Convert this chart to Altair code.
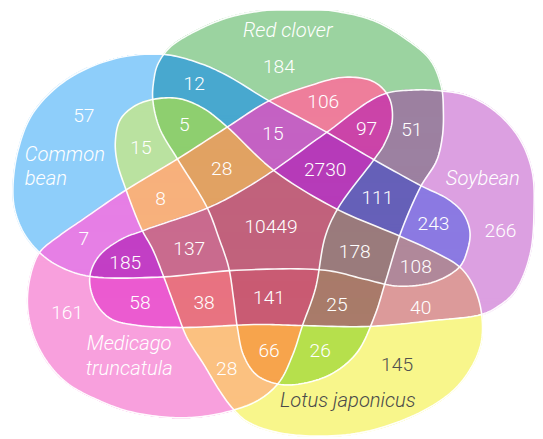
import numpy as np
import pandas as pd
import altair as alt

alt.data_transformers.disable_max_rows()

# ---------------- data ----------------
SET_NAMES = ["Common bean", "Red clover", "Soybean", "Lotus japonicus", "Medicago truncatula"]
SET_CODES = ["B", "G", "P", "Y", "K"]

REGION_SETS = ["B", "G", "P", "Y", "K",
               "BG", "GK", "GP", "BP", "PY", "GY", "YK", "PK", "BK", "BY",
               "BGY", "BGK", "GPK", "BGP", "BPY", "BPK", "BYK", "PYK", "GYK", "GPY",
               "BGYK", "BGPK", "BPYK", "BGPY", "GPYK", "BGPYK"]
REGION_COUNTS = [57, 184, 266, 145, 161,
                 12, 106, 51, 243, 40, 26, 28, 58, 7, 15,
                 5, 15, 97, 111, 108, 185, 8, 38, 66, 25,
                 28, 2730, 137, 178, 141, 10449]
REGION_COLORS = ["#8ecefa", "#9bd3a0", "#dca0e1", "#f8f68b", "#f8a0dd",
                 "#48a8cf", "#ee7e9b", "#9c81a1", "#8b7ae2", "#dc9a9a", "#b6e04c", "#fbc181",
                 "#eb5bd0", "#e67fe5", "#bae2a0",
                 "#8ecf6f", "#c462c3", "#cb44a9", "#6660b9", "#b0889a", "#c23fc5", "#f7b17c",
                 "#e87381", "#f7a44d", "#a97b6a",
                 "#e1a263", "#b63bb9", "#c96b8e", "#9a7b7c", "#c95b73", "#c1627c"]

# ---------------- layout (geometry of the diagram) ----------------
SHAPE_OUTLINES = {
    "B": [(117, 56), (167, 52), (203, 61), (230, 73), (273, 99), (330, 130), (380, 159), (427, 185),
          (455, 199), (470, 213), (477, 232), (474, 252), (466, 268), (440, 283), (403, 287),
          (370, 280), (330, 271), (240, 271), (160, 278), (90, 277), (60, 267), (40, 253),
          (24, 233), (15, 210), (13, 187), (18, 150), (33, 112), (67, 78)],
    "G": [(160, 62), (172, 45), (195, 30), (230, 15), (263, 8), (300, 5), (340, 8), (380, 18),
          (413, 37), (437, 58), (448, 85), (450, 110), (449, 135), (443, 160), (427, 186),
          (407, 232), (392, 280), (380, 318), (362, 355), (335, 377), (300, 387), (280, 386),
          (260, 377), (247, 357), (241, 330), (237, 300), (232, 268), (222, 238), (210, 207),
          (180, 158), (162, 127), (155, 98), (156, 78)],
    "P": [(91, 278), (100, 257), (122, 240), (147, 230), (210, 208), (240, 193), (277, 170),
          (330, 132), (387, 93), (420, 88), (448, 89), (475, 94), (503, 110), (527, 137),
          (540, 170), (542, 210), (538, 255), (523, 292), (505, 308), (488, 316), (440, 322),
          (373, 328), (303, 327), (263, 326), (187, 329), (140, 327), (112, 320), (96, 302)],
    "Y": [(117, 140), (122, 118), (137, 104), (158, 97), (183, 97), (207, 107), (230, 125),
          (277, 169), (340, 208), (405, 236), (440, 252), (467, 268), (481, 288), (489, 317),
          (487, 350), (465, 388), (425, 416), (365, 436), (310, 439), (275, 434), (250, 424),
          (235, 410), (222, 392), (207, 367), (190, 340), (180, 315), (167, 280), (155, 250),
          (143, 228), (127, 187), (119, 162)],
    "K": [(40, 253), (60, 236), (83, 220), (127, 190), (180, 158), (230, 126), (273, 99),
          (310, 85), (350, 75), (380, 80), (395, 96), (398, 120), (390, 143), (380, 158),
          (343, 208), (330, 237), (320, 290), (307, 327), (297, 357), (283, 385), (262, 403),
          (233, 414), (200, 420), (167, 420), (130, 414), (100, 403), (70, 387), (50, 367),
          (35, 340), (28, 310), (30, 280)],
}

# label anchors (visual centres), same order as REGION_SETS
LABEL_XY = [(85, 113), (283, 64), (508, 230), (403, 366), (68, 313),
            (197, 81), (328, 99), (418, 128), (440, 223), (427, 308), (325, 352), (230, 370),
            (142, 303), (85, 238), (143, 146),
            (187, 123), (277, 132), (372, 127), (383, 197), (422, 267), (127, 263), (163, 198),
            (207, 303), (273, 352), (342, 305),
            (225, 167), (330, 168), (192, 248), (360, 252), (273, 298), (275, 226)]

# set-name lines: (set index, word index or None, baseline x, baseline y, alignment)
NAME_LAYOUT = [(0, 0, 25, 160, "left"), (0, 1, 25, 184, "left"),
               (1, None, 292, 34, "center"), (2, None, 490, 184, "center"),
               (3, None, 353, 410, "center"),
               (4, 0, 131, 352, "center"), (4, 1, 131, 377, "center")]

FONT = "Roboto"


# ---------------- geometry helpers ----------------
def smooth_closed(pts, n=12):
    P = np.asarray(pts, float)
    m = len(P)
    out = []
    for i in range(m):
        p0, p1, p2, p3 = P[(i - 1) % m], P[i], P[(i + 1) % m], P[(i + 2) % m]
        t0 = 0.0
        t1 = t0 + np.hypot(*(p1 - p0)) ** 0.5
        t2 = t1 + np.hypot(*(p2 - p1)) ** 0.5
        t3 = t2 + np.hypot(*(p3 - p2)) ** 0.5
        t = np.linspace(t1, t2, n, endpoint=False)[:, None]
        a1 = (t1 - t) / (t1 - t0) * p0 + (t - t0) / (t1 - t0) * p1
        a2 = (t2 - t) / (t2 - t1) * p1 + (t - t1) / (t2 - t1) * p2
        a3 = (t3 - t) / (t3 - t2) * p2 + (t - t2) / (t3 - t2) * p3
        b1 = (t2 - t) / (t2 - t0) * a1 + (t - t0) / (t2 - t0) * a2
        b2 = (t3 - t) / (t3 - t1) * a2 + (t - t1) / (t3 - t1) * a3
        out.append((t2 - t) / (t2 - t1) * b1 + (t - t1) / (t2 - t1) * b2)
    return np.vstack(out)


polys = {c: smooth_closed(SHAPE_OUTLINES[c]) for c in SET_CODES}


def crossings(poly, yc):
    x1, y1 = poly[:, 0], poly[:, 1]
    x2, y2 = np.roll(x1, -1), np.roll(y1, -1)
    m = ((y1 <= yc) & (y2 > yc)) | ((y2 <= yc) & (y1 > yc))
    return np.sort(x1[m] + (yc - y1[m]) * (x2[m] - x1[m]) / (y2[m] - y1[m]))


# fill every Venn cell row by row (exact membership -> its own colour);
# each strip overlaps its neighbours by a full pixel so no seams show
cells = []
for r in range(8, 439):
    yc = r + 0.5
    cr = {c: crossings(polys[c], yc) for c in SET_CODES}
    allx = np.concatenate(list(cr.values()))
    if allx.size == 0:
        continue
    bps = np.unique(allx)
    prev = None
    for a, b in zip(bps[:-1], bps[1:]):
        mid = 0.5 * (a + b)
        key = "".join(c for c in SET_CODES if np.sum(cr[c] < mid) % 2 == 1)
        if not key:
            prev = None
            continue
        if prev is not None and prev["region"] == key:
            prev["x2"] = float(b) + 0.5
        else:
            prev = dict(x=float(a) - 0.5, x2=float(b) + 0.5, y=r - 0.5, y2=r + 1.5, region=key)
            cells.append(prev)
cell_df = pd.DataFrame(cells)

outline_rows = []
for c in SET_CODES:
    p = polys[c]
    p = np.vstack([p, p[:1]])
    for i, (x, y) in enumerate(p):
        outline_rows.append(dict(shape=c, i=i, x=float(x), y=float(y)))
outline_df = pd.DataFrame(outline_rows)

num_df = pd.DataFrame({
    "region": REGION_SETS,
    "label": [str(v) for v in REGION_COUNTS],
    "x": [p[0] for p in LABEL_XY],
    "y": [p[1] + 7 for p in LABEL_XY],
})
num_df["tcolor"] = np.where(num_df["region"] == "Y", "#505050", "#ffffff")

name_rows = []
for si, li, x, y, al in NAME_LAYOUT:
    words = SET_NAMES[si].split()
    txt = SET_NAMES[si] if li is None else words[li]
    name_rows.append(dict(label=txt, x=x, y=y, align=al,
                          tcolor="#4a4a4a" if SET_CODES[si] == "Y" else "#ffffff"))
name_df = pd.DataFrame(name_rows)

# ---------------- chart ----------------
xs = alt.Scale(domain=[8, 543], nice=False, zero=False)
ys = alt.Scale(domain=[8, 439], nice=False, zero=False, reverse=True)

cells_layer = alt.Chart(cell_df).mark_rect(strokeWidth=0).encode(
    x=alt.X("x:Q", scale=xs, axis=None),
    x2="x2:Q",
    y=alt.Y("y:Q", scale=ys, axis=None),
    y2="y2:Q",
    color=alt.Color("region:N", scale=alt.Scale(domain=REGION_SETS, range=REGION_COLORS), legend=None),
)

outline_layer = alt.Chart(outline_df).mark_line(
    color="white", strokeWidth=1.6, strokeJoin="round", opacity=0.95
).encode(
    x=alt.X("x:Q", scale=xs, axis=None),
    y=alt.Y("y:Q", scale=ys, axis=None),
    detail="shape:N",
    order="i:Q",
)

num_layer = alt.Chart(num_df).mark_text(
    font=FONT, fontSize=19.5, fontWeight=300, baseline="alphabetic", align="center"
).encode(
    x=alt.X("x:Q", scale=xs, axis=None),
    y=alt.Y("y:Q", scale=ys, axis=None),
    text="label:N",
    color=alt.Color("tcolor:N", scale=None),
)

name_left = alt.Chart(name_df[name_df["align"] == "left"]).mark_text(
    font=FONT, fontSize=20.5, fontWeight=300, fontStyle="italic", baseline="alphabetic", align="left"
).encode(
    x=alt.X("x:Q", scale=xs, axis=None),
    y=alt.Y("y:Q", scale=ys, axis=None),
    text="label:N",
    color=alt.Color("tcolor:N", scale=None),
)
name_center = alt.Chart(name_df[name_df["align"] == "center"]).mark_text(
    font=FONT, fontSize=20.5, fontWeight=300, fontStyle="italic", baseline="alphabetic", align="center"
).encode(
    x=alt.X("x:Q", scale=xs, axis=None),
    y=alt.Y("y:Q", scale=ys, axis=None),
    text="label:N",
    color=alt.Color("tcolor:N", scale=None),
)

chart = alt.layer(cells_layer, outline_layer, num_layer, name_left, name_center).properties(
    width=535, height=431, padding=0, autosize=alt.AutoSizeParams(type="none"),
    background="white",
).configure_view(stroke=None)

chart.save("out.html", embed_options={"renderer": "svg", "actions": False})
